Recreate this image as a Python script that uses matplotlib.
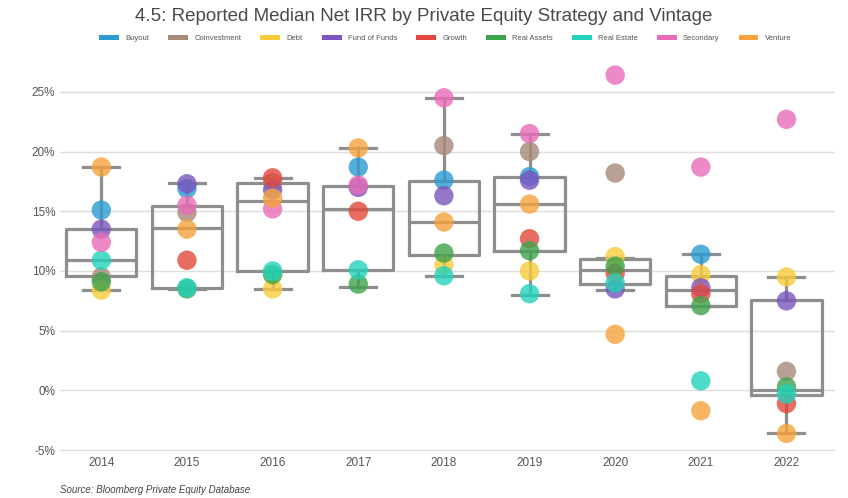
import numpy as np
import matplotlib
matplotlib.use("Agg")
import matplotlib.pyplot as plt
from matplotlib.patches import Patch

plt.rcParams['font.family'] = ['Liberation Sans', 'DejaVu Sans']

years = ["2014", "2015", "2016", "2017", "2018", "2019", "2020", "2021", "2022"]
nan = np.nan

strategies = ["Buyout", "Coinvestment", "Debt", "Fund of Funds", "Growth",
              "Real Assets", "Real Estate", "Secondary", "Venture"]
colors = ["#2b9bd3", "#a8897a", "#f8cb3a", "#7b55bd", "#e2483c",
          "#3fa34d", "#22d2bb", "#e86cb8", "#f5a33c"]

buyout        = [15.1, 16.9, nan, 18.7, 17.6, 17.9, nan, 11.4, nan]
coinvestment  = [9.5, 14.9, 17.4, nan, 20.5, 20.0, 18.2, nan, 1.6]
debt          = [8.4, nan, 8.5, nan, 10.5, 10.0, 11.2, 9.7, 9.5]
fund_of_funds = [13.5, 17.3, 16.8, 17.0, 16.3, 17.6, 8.5, 8.6, 7.5]
growth        = [nan, 10.9, 17.8, 15.0, nan, 12.7, 9.8, 8.1, -1.1]
real_assets   = [9.1, 8.5, 9.7, 8.9, 11.5, 11.7, 10.4, 7.1, 0.3]
real_estate   = [10.9, 8.6, 10.0, 10.1, 9.6, 8.1, 9.0, 0.8, -0.3]
secondary     = [12.4, 15.5, 15.2, 17.2, 24.5, 21.5, 26.4, 18.7, 22.7]
venture       = [18.7, 13.5, 16.1, 20.3, 14.1, 15.6, 4.7, -1.7, -3.6]

series = [buyout, coinvestment, debt, fund_of_funds, growth,
          real_assets, real_estate, secondary, venture]

# box statistics per vintage
box_q1     = [9.6, 8.6, 10.0, 10.1, 11.3, 11.7, 8.9, 7.1, -0.4]
box_median = [10.9, 13.6, 15.9, 15.2, 14.1, 15.6, 10.1, 8.4, 0.05]
box_q3     = [13.5, 15.4, 17.4, 17.1, 17.5, 17.9, 11.0, 9.6, 7.6]
whisk_lo   = [8.4, 8.5, 8.5, 8.7, 9.6, 8.0, 8.4, 7.1, -3.6]
whisk_hi   = [18.7, 17.4, 17.8, 20.3, 24.5, 21.5, 11.1, 11.4, 9.5]

yticks = [-5, 0, 5, 10, 15, 20, 25]

fig = plt.figure(figsize=(8.48, 4.98), dpi=100)
ax = fig.add_axes([0.071, 0.086, 0.914, 0.798])

stats = []
for i in range(len(years)):
    stats.append(dict(med=box_median[i], q1=box_q1[i], q3=box_q3[i],
                      whislo=whisk_lo[i], whishi=whisk_hi[i], fliers=[]))
gray = "#8e8e8e"
ax.bxp(stats, positions=np.arange(len(years)), widths=0.82,
       showfliers=False, patch_artist=False,
       boxprops=dict(color=gray, linewidth=2.3),
       medianprops=dict(color=gray, linewidth=2.3),
       whiskerprops=dict(color=gray, linewidth=2.3),
       capprops=dict(color=gray, linewidth=2.3),
       capwidths=0.42, zorder=2)

x = np.arange(len(years))
for vals, c in zip(series, colors):
    v = np.array(vals, dtype=float)
    m = ~np.isnan(v)
    ax.scatter(x[m], v[m], s=195, color=c, alpha=0.8, edgecolors='none', zorder=3)

ax.set_xlim(-0.48, 8.57)
ax.set_ylim(-5.42, 27.85)
ax.set_yticks(yticks)
ax.set_yticklabels([f"{t}%" for t in yticks])
ax.set_xticks(x)
ax.set_xticklabels(years)
ax.tick_params(axis='both', length=0, colors="#555555", labelsize=8.5)
ax.tick_params(axis='x', pad=1)
ax.grid(axis='y', color="#dedede", linewidth=1)
ax.set_axisbelow(True)
for s in ax.spines.values():
    s.set_visible(False)

fig.text(0.5, 0.966, "4.5: Reported Median Net IRR by Private Equity Strategy and Vintage",
         ha='center', va='center', fontsize=13.5, color="#4a4a4a")

handles = [Patch(facecolor=c, edgecolor='none', label=s) for s, c in zip(strategies, colors)]
fig.legend(handles=handles, loc='center', bbox_to_anchor=(0.525, 0.923), ncol=9,
           frameon=False, fontsize=5.5, handlelength=2.6, handleheight=0.8,
           columnspacing=2.5, handletextpad=0.8, labelcolor="#555555")

fig.text(0.071, 0.006, "Source: Bloomberg Private Equity Database", ha='left', va='bottom',
         fontsize=7, style='italic', color="#444444")

fig.savefig("out.png", dpi=100)
